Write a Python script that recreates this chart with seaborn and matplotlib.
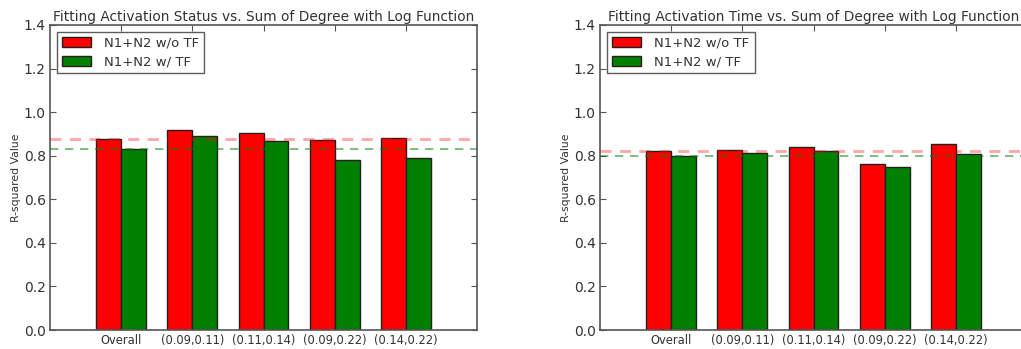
import matplotlib
matplotlib.use("Agg")
import matplotlib.pyplot as plt
import seaborn as sns
import pandas as pd

# Degree-sum bins and model variants
categories = ["Overall", "(0.09,0.11)", "(0.11,0.14)", "(0.09,0.22)", "(0.14,0.22)"]
series_names = ["N1+N2 w/o TF", "N1+N2 w/ TF"]

# R-squared values, activation status fit
status_wo_tf = [0.879, 0.918, 0.906, 0.872, 0.883]
status_w_tf = [0.830, 0.892, 0.869, 0.779, 0.789]

# R-squared values, activation time fit
time_wo_tf = [0.820, 0.826, 0.838, 0.762, 0.854]
time_w_tf = [0.798, 0.813, 0.820, 0.748, 0.809]

yticks = [0.0, 0.2, 0.4, 0.6, 0.8, 1.0, 1.2, 1.4]

titles = [
    "Fitting Activation Status vs. Sum of Degree with Log Function",
    "Fitting Activation Time vs. Sum of Degree with Log Function",
]

sns.set_style("ticks")
plt.rcParams["font.family"] = ["DejaVu Sans"]

RED = "#ff0000"
GREEN = "#008000"


def long_frame(wo, w):
    rows = []
    for cat, v in zip(categories, wo):
        rows.append({"bin": cat, "model": series_names[0], "r2": v})
    for cat, v in zip(categories, w):
        rows.append({"bin": cat, "model": series_names[1], "r2": v})
    return pd.DataFrame(rows)


fig = plt.figure(figsize=(10.21, 3.49), dpi=100)
W, H = 1021, 349
ax_specs = [(50, 25, 427, 305), (600, 25, 427, 305)]
data = [(status_wo_tf, status_w_tf), (time_wo_tf, time_w_tf)]

for (x0, y0, w, h), (wo, wt), title in zip(ax_specs, data, titles):
    ax = fig.add_axes([x0 / W, (H - y0 - h) / H, w / W, h / H])
    df = long_frame(wo, wt)
    sns.barplot(
        data=df, x="bin", y="r2", hue="model", order=categories,
        hue_order=series_names, palette=[RED, GREEN], saturation=1,
        width=0.7, errorbar=None, edgecolor="#222222", linewidth=1.0,
        ax=ax,
    )
    ax.axhline(wo[0], color=RED, alpha=0.35, lw=2.0, ls=(0, (4, 3)), zorder=3)
    ax.axhline(wt[0], color=GREEN, alpha=0.6, lw=1.2, ls=(0, (5, 4)), zorder=3)

    ax.set_xlim(-1.0, 5.0)
    ax.set_ylim(0, 1.4)
    ax.set_yticks(yticks)
    ax.set_yticklabels([f"{t:.1f}" for t in yticks], fontsize=10, color="#333333")
    ax.set_xticks(range(len(categories)))
    ax.set_xticklabels(categories, fontsize=8.3, color="#333333")
    ax.set_xlabel("")
    ax.set_ylabel("R-squared Value", fontsize=7.8, color="#333333", labelpad=2)
    ax.set_title(title, fontsize=9.9, color="#333333", pad=3)
    ax.tick_params(direction="in", length=4, width=0.8, top=True, right=True,
                   color="#555555", pad=3)
    for s in ax.spines.values():
        s.set_visible(True)
        s.set_color("#555555")
        s.set_linewidth(1.2)

    ax.get_legend().remove()
    handles = [
        matplotlib.patches.Patch(facecolor=RED, edgecolor="#222222", label=series_names[0]),
        matplotlib.patches.Patch(facecolor=GREEN, edgecolor="#222222", label=series_names[1]),
    ]
    leg = ax.legend(handles=handles, loc="upper left", fancybox=False,
                    fontsize=9.5, handlelength=2.2, handleheight=0.8,
                    borderpad=0.4, labelspacing=0.4, handletextpad=1.0,
                    borderaxespad=0.5)
    leg.get_frame().set_edgecolor("#333333")
    leg.get_frame().set_linewidth(1.0)
    for t in leg.get_texts():
        t.set_color("#333333")

fig.savefig("out.png", dpi=100)
